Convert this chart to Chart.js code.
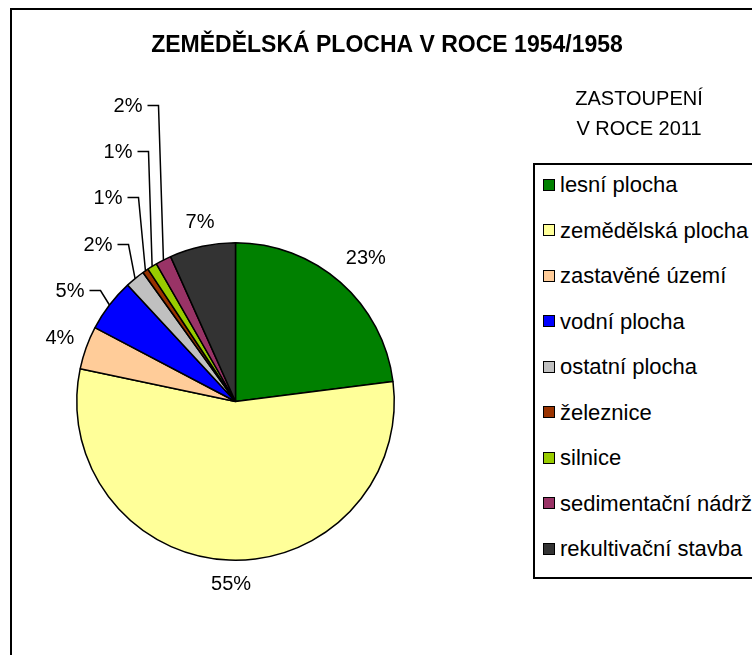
<!DOCTYPE html>
<html lang="cs">
<head>
<meta charset="utf-8">
<title>Zemědělská plocha v roce 1954/1958</title>
<script src="https://cdn.jsdelivr.net/npm/chart.js@4.4.1/dist/chart.umd.min.js"></script>
<style>
  html, body { margin: 0; padding: 0; background: #fff; overflow: hidden; width: 752px; height: 655px; }
  #frame { position: absolute; left: 10px; top: 8px; width: 800px; height: 700px;
           border-left: 2px solid #000; border-top: 2px solid #000; }
  #pie { position: absolute; left: 0; top: 0; }
  #legend { position: absolute; left: 533px; top: 163px; width: 260px; height: 412px;
            border: 2px solid #000; background: #fff;
            font: 22px "Liberation Sans", Arial, sans-serif; color: #000; }
  #legend .row { position: absolute; left: 0; height: 24px; line-height: 24px; white-space: nowrap; }
  #legend .sq { position: absolute; left: 8px; top: 5.5px; width: 10px; height: 10px; border: 1.5px solid #000; }
  #legend .tx { position: absolute; left: 25px; top: 0; }
</style>
</head>
<body>
<div id="frame"></div>
<canvas id="pie" width="752" height="655"></canvas>
<div id="legend"></div>
<script>
// ---- data -------------------------------------------------------------
const categories = [
  'lesní plocha', 'zemědělská plocha', 'zastavěné území', 'vodní plocha',
  'ostatní plocha', 'železnice', 'silnice', 'sedimentační nádrž', 'rekultivační stavba',
];
const shares = [23.0, 55.3, 4.4, 5.4, 2.0, 0.6, 1.0, 1.6, 6.7];
const colors = [
  '#008000', '#FFFF99', '#FFCC99', '#0000FF',
  '#C0C0C0', '#993300', '#99CC00', '#993366', '#333333',
];
const titleText = 'ZEMĚDĚLSKÁ PLOCHA V ROCE 1954/1958';
const subtitleLines = ['ZASTOUPENÍ', 'V ROCE 2011'];

// labels with leader lines: right edge of text, relative to pie centre
const leaderLabels = [null, null, null, [-151, -111], [-123, -157], [-113, -204], [-103, -250], [-93, -296], null];

const FONT = '"Liberation Sans", Arial, sans-serif';

// percent labels + leader lines + headings
const pieText = {
  id: 'pieText',
  afterDatasetsDraw(chart) {
    const { ctx } = chart;
    const meta = chart.getDatasetMeta(0);
    const total = shares.reduce((s, v) => s + v, 0);
    ctx.save();
    ctx.fillStyle = '#000';
    ctx.strokeStyle = '#000';
    ctx.lineWidth = 1.5;
    ctx.font = '20px ' + FONT;
    ctx.textBaseline = 'middle';

    meta.data.forEach((arc, i) => {
      const { x, y, startAngle, endAngle, outerRadius } = arc.getProps(['x', 'y', 'startAngle', 'endAngle', 'outerRadius'], true);
      const mid = (startAngle + endAngle) / 2;
      const txt = Math.round(shares[i] / total * 100) + '%';
      const lead = leaderLabels[i];
      if (lead) {
        const tx = x + lead[0], ty = y + lead[1];
        ctx.textAlign = 'right';
        ctx.fillText(txt, tx, ty + 1);
        ctx.beginPath();
        ctx.moveTo(tx + 5, ty);
        ctx.lineTo(tx + 16, ty);
        ctx.lineTo(x + Math.cos(mid) * outerRadius, y + Math.sin(mid) * outerRadius);
        ctx.stroke();
      } else {
        const hw = ctx.measureText(txt).width / 2, hh = 7.5;
        const c = Math.cos(mid), s = Math.sin(mid);
        const dist = outerRadius + 15 + Math.abs(c) * hw + Math.abs(s) * hh;
        ctx.textAlign = 'center';
        ctx.fillText(txt, x + c * dist + 3, y + s * dist + 1);
      }
    });

    // headings
    ctx.textBaseline = 'alphabetic';
    ctx.textAlign = 'center';
    ctx.font = 'bold 23px ' + FONT;
    ctx.fillText(titleText, 387, 52);
    ctx.font = '20px ' + FONT;
    subtitleLines.forEach((line, i) => ctx.fillText(line, 639, 105 + i * 30));
    ctx.restore();
  },
};

new Chart(document.getElementById('pie'), {
  type: 'pie',
  data: {
    labels: categories,
    datasets: [{
      data: shares,
      backgroundColor: colors,
      borderColor: '#000',
      borderWidth: 1.5,
    }],
  },
  options: {
    responsive: false,
    animation: false,
    devicePixelRatio: 1,
    layout: { padding: { left: 76, top: 242, right: 357, bottom: 94 } },
    plugins: {
      legend: { display: false },
      tooltip: { enabled: false },
      title: { display: false },
    },
  },
  plugins: [pieText],
});

// legend box
const legend = document.getElementById('legend');
legend.innerHTML = categories.map((name, i) => {
  const top = 185 - 165 + i * 45.5 - 12;
  return `<div class="row" style="top:${top}px">
    <span class="sq" style="background:${colors[i]}"></span>
    <span class="tx">${name}</span>
  </div>`;
}).join('');
</script>
</body>
</html>
